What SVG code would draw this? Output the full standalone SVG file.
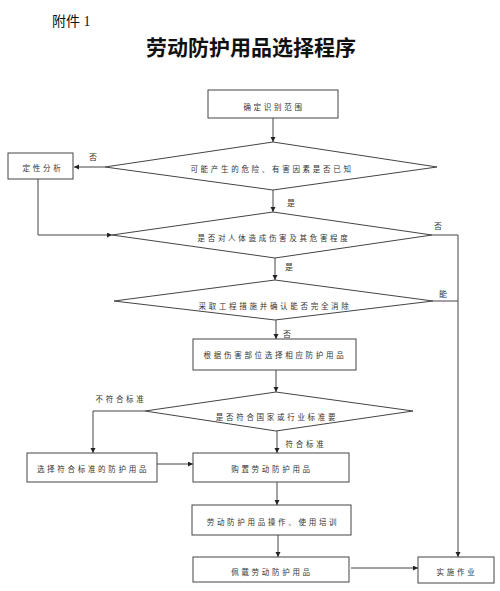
<svg xmlns="http://www.w3.org/2000/svg" width="500" height="591" viewBox="0 0 500 591">
<defs>
<marker id="ah" markerUnits="userSpaceOnUse" markerWidth="6" markerHeight="6" refX="5" refY="2.5" orient="auto">
<path d="M0,0 L5,2.5 L0,5 z" fill="#222"/>
</marker>
<style>
.box{fill:#fff;stroke:#444;stroke-width:1}
.dia{fill:#fff;stroke:#444;stroke-width:1}
.ln{fill:none;stroke:#444;stroke-width:1}
.ar{marker-end:url(#ah)}
.t{font-family:"Noto Sans CJK SC","Noto Sans CJK JP",sans-serif;font-size:7.5px;letter-spacing:2.7px;fill:#333;text-anchor:middle;dominant-baseline:central}
.lb{font-family:"Noto Sans CJK SC","Noto Sans CJK JP",sans-serif;font-size:8px;letter-spacing:2.2px;fill:#333;text-anchor:middle;dominant-baseline:central}
</style>
</defs>
<rect width="500" height="591" fill="#fff"/>
<text x="52" y="21" font-family="'Liberation Serif','Noto Sans CJK SC',serif" font-size="14" fill="#111" dominant-baseline="central">附件 1</text>
<text x="251" y="46" font-family="'Noto Sans CJK SC','Noto Sans CJK JP',serif" font-size="21" font-weight="bold" fill="#111" text-anchor="middle" dominant-baseline="central">劳动防护用品选择程序</text>

<g id="connectors">
<path class="ln ar" d="M273,118 V142"/>
<path class="ln ar" d="M105,167 H74"/>
<path class="ln ar" d="M38,179 V235 H112"/>
<path class="ln ar" d="M273,190 V212"/>
<path class="ln ar" d="M432,235 H458 V557"/>
<path class="ln" d="M433,301 H458"/>
<path class="ln ar" d="M275,258 V280"/>
<path class="ln ar" d="M276,320 V339"/>
<path class="ln ar" d="M276,370 V392"/>
<path class="ln ar" d="M145,411 H93 V453"/>
<path class="ln ar" d="M277,431 V453"/>
<path class="ln ar" d="M157,464 H193"/>
<path class="ln ar" d="M277,482 V505"/>
<path class="ln ar" d="M278,535 V557"/>
<path class="ln ar" d="M351,568 H418"/>
<text class="lb" x="94" y="156">否</text>
<text class="lb" x="292" y="202">是</text>
<text class="lb" x="439" y="225">否</text>
<text class="lb" x="290" y="266">是</text>
<text class="lb" x="444" y="293">能</text>
<text class="lb" x="288" y="333">否</text>
<text class="t" x="121" y="398">不符合标准</text>
<text class="t" x="306" y="443">符合标准</text>
</g>

<g id="n1"><rect class="box" x="208" y="90" width="130" height="28"/><text class="t" x="274" y="106">确定识别范围</text></g>
<g id="d1"><polygon class="dia" points="273,142 437,167 273,190 105,167"/><text class="t" x="272" y="168">可能产生的危险、有害因素是否已知</text></g>
<g id="n2"><rect class="box" x="8" y="153" width="65" height="26"/><text class="t" x="43" y="167">定性分析</text></g>
<g id="d2"><polygon class="dia" points="273,212 432,235 275,258 112,235"/><text class="t" x="274" y="237">是否对人体造成伤害及其危害程度</text></g>
<g id="d3"><polygon class="dia" points="275,280 433,301 275,320 114,301"/><text class="t" x="275" y="305">采取工程措施并确认能否完全消除</text></g>
<g id="n3"><rect class="box" x="193" y="339" width="163" height="31"/><text class="t" x="275" y="354">根据伤害部位选择相应防护用品</text></g>
<g id="d4"><polygon class="dia" points="276,392 413,411 276,431 145,411"/><text class="t" x="277" y="416">是否符合国家或行业标准要</text></g>
<g id="n4"><rect class="box" x="27" y="453" width="130" height="29"/><text class="t" x="93" y="468">选择符合标准的防护用品</text></g>
<g id="n5"><rect class="box" x="193" y="453" width="156" height="29"/><text class="t" x="272" y="468">购置劳动防护用品</text></g>
<g id="n6"><rect class="box" x="192" y="505" width="159" height="30"/><text class="t" x="273" y="521">劳动防护用品操作、使用培训</text></g>
<g id="n7"><rect class="box" x="193" y="557" width="156" height="25"/><text class="t" x="272" y="571">佩戴劳动防护用品</text></g>
<g id="n8"><rect class="box" x="418" y="557" width="76" height="26"/><text class="t" x="457" y="571">实施作业</text></g>
</svg>
